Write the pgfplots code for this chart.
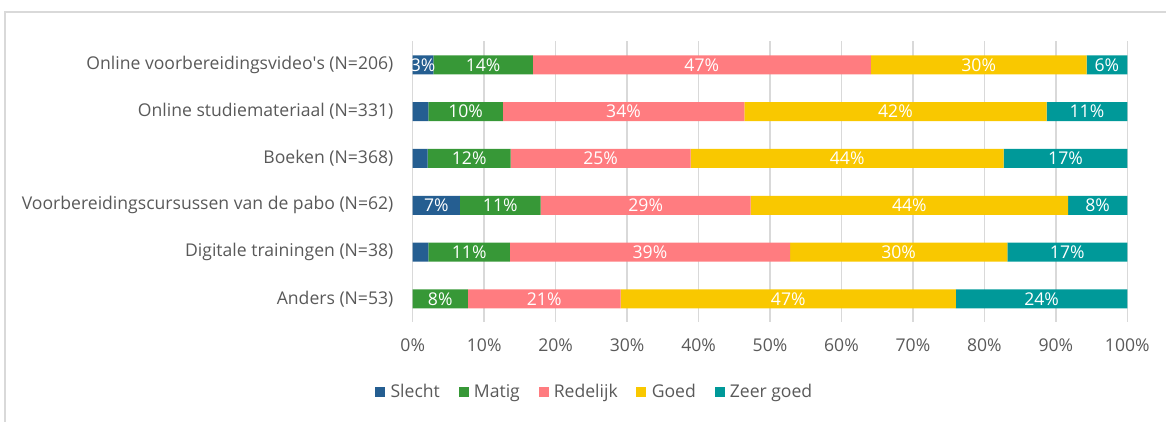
\documentclass[border=0pt]{standalone}
\usepackage{fontspec}
\setmainfont{Open Sans}
\usepackage{pgfplots}
\pgfplotsset{compat=1.18}
\usepackage{pgfplotstable}
\definecolor{cslecht}{RGB}{37,94,145}
\definecolor{cmatig}{RGB}{55,152,55}
\definecolor{credelijk}{RGB}{255,124,128}
\definecolor{cgoed}{RGB}{249,200,0}
\definecolor{czeer}{RGB}{0,153,153}
\definecolor{txtgrey}{RGB}{89,89,89}
\definecolor{gridgrey}{RGB}{217,217,217}
\newcommand{\chartfont}{\fontsize{13.2}{15}\selectfont}

% percentages per answer, rows top to bottom
\pgfplotstableread{
row slecht matig redelijk goed zeergoed
0   2.9    13.9  47.3     30.2 5.7
1   2.2    10.4  33.8     42.3 11.3
2   2.1    11.6  25.2     43.8 17.3
3   6.6    11.3  29.4     44.4 8.3
4   2.2    11.4  39.2     30.4 16.8
5   0      7.7   21.4     46.9 24.0
}\data

\begin{document}
\begin{tikzpicture}
\begin{axis}[
  xbar stacked,
  scale only axis,
  width=536.25pt, height=210.75pt,
  bar width=14.25pt,
  xmin=0, xmax=100,
  ymin=-0.5, ymax=5.5, y dir=reverse,
  ytick={0,...,5},
  yticklabels={Online voorbereidingsvideo\textquotesingle s (N=206),
               Online studiemateriaal (N=331),
               Boeken (N=368),
               Voorbereidingscursussen van de pabo (N=62),
               Digitale trainingen (N=38),
               Anders (N=53)},
  xtick={0,10,...,100},
  xticklabel={\pgfmathprintnumber{\tick}\%},
  /pgf/number format/assume math mode=true,
  xmajorgrids,
  grid style={draw=gridgrey, line width=1.1pt},
  axis line style={draw=none},
  major tick length=0pt,
  tick label style={font=\chartfont, text=txtgrey},
  yticklabel style={xshift=-11pt},
  xticklabel style={yshift=-9pt},
  clip=false,
  visualization depends on=rawx \as \rawx,
  nodes near coords={\ifdim\rawx pt>2.5pt\pgfmathprintnumber[fixed,precision=0]{\rawx}\%\fi},
  every node near coord/.append style={anchor=center, text=white,
    font=\chartfont},
  legend style={at={(0.2552,-0.2473)}, anchor=center, draw=none,
    fill=none, font=\chartfont, text=txtgrey, legend columns=-1,
    /tikz/every even column/.append style={column sep=12pt},
    /tikz/every odd column/.append style={column sep=2pt}},
  legend image code/.code={\fill[#1] (0pt,-3.75pt) rectangle (7.5pt,3.75pt);},
]
\addplot[fill=cslecht, draw=none] table[x=slecht, y=row] {\data};
\addplot[fill=cmatig, draw=none] table[x=matig, y=row] {\data};
\addplot[fill=credelijk, draw=none] table[x=redelijk, y=row] {\data};
\addplot[fill=cgoed, draw=none] table[x=goed, y=row] {\data};
\addplot[fill=czeer, draw=none] table[x=zeergoed, y=row] {\data};
\legend{Slecht,Matig,Redelijk,Goed,Zeer goed}
\draw[gridgrey, line width=1.1pt]
  (axis description cs:-0.5706,-0.3541) -- (axis description cs:-0.5706,1.105)
  -- (axis description cs:1.0545,1.105);
\path (axis description cs:-0.5776,-0.3541) rectangle (axis description cs:1.0545,1.1477);
\end{axis}
\end{tikzpicture}
\end{document}
